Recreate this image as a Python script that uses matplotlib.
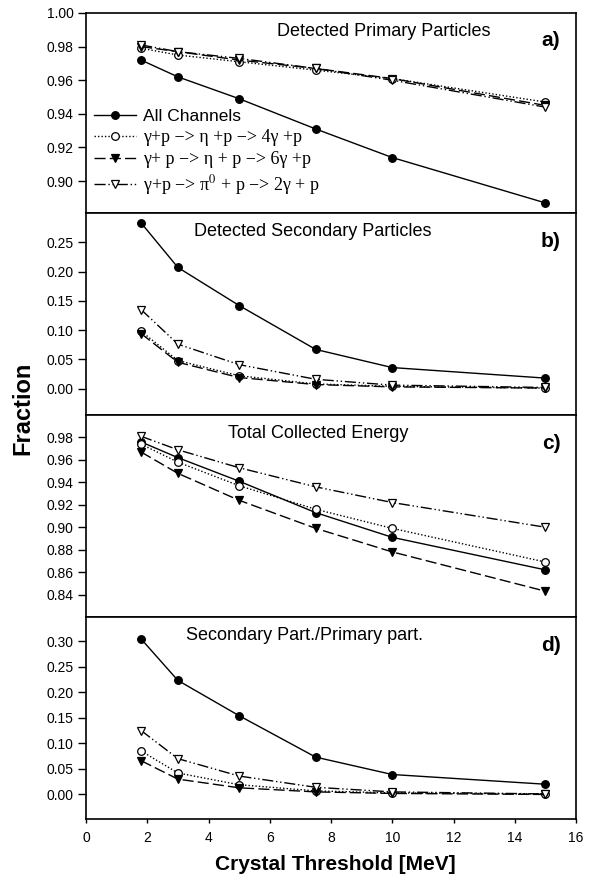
"""Detection fractions vs crystal threshold, four stacked panels."""

import matplotlib.pyplot as plt
import numpy as np

plt.rcParams["font.family"] = ["Liberation Sans", "DejaVu Sans"]
plt.rcParams["mathtext.fontset"] = "stix"

threshold = [1.8, 3.0, 5.0, 7.5, 10.0, 15.0]

# a) detected primary particles
prim_all = [0.972, 0.962, 0.949, 0.931, 0.914, 0.887]
prim_4g = [0.979, 0.975, 0.971, 0.966, 0.961, 0.947]
prim_6g = [0.980, 0.977, 0.972, 0.967, 0.961, 0.945]
prim_2g = [0.981, 0.977, 0.973, 0.967, 0.960, 0.944]

# b) detected secondary particles
sec_all = [0.283, 0.207, 0.142, 0.067, 0.036, 0.018]
sec_4g = [0.098, 0.048, 0.022, 0.008, 0.004, 0.001]
sec_6g = [0.094, 0.045, 0.019, 0.007, 0.003, 0.001]
sec_2g = [0.135, 0.076, 0.041, 0.016, 0.006, 0.002]

# c) total collected energy
en_all = [0.976, 0.962, 0.941, 0.913, 0.891, 0.862]
en_4g = [0.974, 0.958, 0.937, 0.916, 0.899, 0.869]
en_6g = [0.967, 0.948, 0.924, 0.899, 0.878, 0.843]
en_2g = [0.981, 0.969, 0.953, 0.936, 0.922, 0.900]

# d) secondary / primary ratio
rat_all = [0.304, 0.223, 0.154, 0.073, 0.039, 0.020]
rat_4g = [0.085, 0.042, 0.019, 0.007, 0.003, 0.001]
rat_6g = [0.066, 0.030, 0.013, 0.005, 0.002, 0.000]
rat_2g = [0.125, 0.070, 0.036, 0.014, 0.005, 0.001]

labels = [
    "All Channels",
    r"γ+p −> η +p −> 4γ +p",
    r"γ+ p −> η + p −> 6γ +p",
    r"γ+p −> π$^{0}$ + p −> 2γ + p",
]

styles = [
    dict(linestyle="-", marker="o", mfc="black"),
    dict(linestyle=(0, (1, 1.5)), marker="o", mfc="white"),
    dict(linestyle=(0, (8, 3)), marker="v", mfc="black"),
    dict(linestyle=(0, (8, 2, 1, 2, 1, 2)), marker="v", mfc="white"),
]

panels = [
    ("Detected Primary Particles", "a)", [prim_all, prim_4g, prim_6g, prim_2g],
     (0.881, 1.0), np.arange(0.90, 1.001, 0.02), 0.608),
    ("Detected Secondary Particles", "b)", [sec_all, sec_4g, sec_6g, sec_2g],
     (-0.045, 0.30), np.arange(0.0, 0.251, 0.05), 0.463),
    ("Total Collected Energy", "c)", [en_all, en_4g, en_6g, en_2g],
     (0.82, 1.0), np.arange(0.84, 0.981, 0.02), 0.473),
    ("Secondary Part./Primary part.", "d)", [rat_all, rat_4g, rat_6g, rat_2g],
     (-0.048, 0.347), np.arange(0.0, 0.301, 0.05), 0.445),
]

W, H = 596, 877
left, right = 86, 576
edges = [13, 213, 415, 617, 819]

fig = plt.figure(figsize=(W / 100, H / 100), dpi=100)

axes = []
for i, (title, tag, series, ylim, yticks, tx) in enumerate(panels):
    top, bot = edges[i], edges[i + 1]
    ax = fig.add_axes([left / W, 1 - bot / H, (right - left) / W, (bot - top) / H])
    axes.append(ax)
    for vals, st, lab in zip(series, styles, labels):
        ax.plot(threshold, vals, color="black", lw=1.0, ms=5.5, mec="black",
                mew=0.9, label=lab, **st)
    ax.set_xlim(0, 16)
    ax.set_ylim(*ylim)
    ax.set_yticks(yticks)
    ax.set_yticklabels([f"{t:.2f}" for t in yticks])
    ax.tick_params(axis="y", direction="out", length=6, width=1, labelsize=10,
                   pad=3)
    for sp in ax.spines.values():
        sp.set_linewidth(1.2)
    ax.text(tx, 0.91, title, transform=ax.transAxes, ha="center", va="center",
            fontsize=13)
    ax.text(0.949, 0.86, tag, transform=ax.transAxes, ha="center", va="center",
            fontsize=15, fontweight="bold")
    if i < 3:
        ax.tick_params(axis="x", bottom=False, labelbottom=False)
    else:
        ax.set_xticks(np.arange(0, 17, 2))
        ax.tick_params(axis="x", direction="out", length=3, width=1,
                       labelsize=10, pad=6)

leg = axes[0].legend(loc="lower left", bbox_to_anchor=(-0.005, 0.03), frameon=False,
                     handlelength=2.4, handletextpad=0.45, labelspacing=0.28,
                     borderaxespad=0.2, fontsize=12.5)
for t in leg.get_texts()[1:]:
    t.set_fontfamily(["Liberation Serif", "DejaVu Serif"])
    t.set_fontsize(13)

fig.text(23 / W, 1 - 408 / H, "Fraction", rotation=90, ha="center", va="center",
         fontsize=17, fontweight="bold")
fig.text(335 / W, 1 - 865 / H, "Crystal Threshold [MeV]", ha="center",
         va="center", fontsize=15, fontweight="bold")

fig.savefig("out.png", dpi=100)
